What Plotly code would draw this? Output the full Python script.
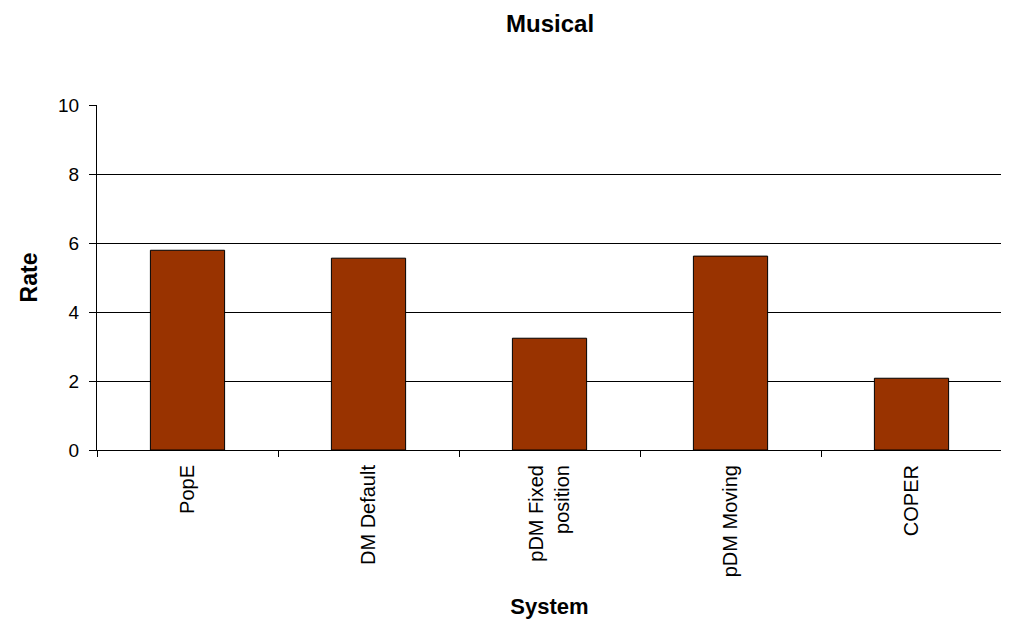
import plotly.graph_objects as go

categories = ["PopE", "DM Default", "pDM Fixed<br>position", "pDM Moving", "COPER"]
rates = [5.79, 5.56, 3.24, 5.62, 2.08]
y_ticks = [0, 2, 4, 6, 8, 10]

fig = go.Figure()
fig.add_trace(go.Bar(
    x=categories, y=rates,
    marker=dict(color="#993300", line=dict(color="black", width=1)),
    width=0.41,
))

font_family = "Liberation Sans, Arial, sans-serif"
fig.update_layout(
    width=1001, height=613,
    paper_bgcolor="white", plot_bgcolor="white",
    margin=dict(l=89, r=7, t=97, b=171, autoexpand=False),
    showlegend=False,
    font=dict(family=font_family, color="black", size=19),
    title=dict(text="<b>Musical</b>", x=0.5415, xanchor="center", y=0.975, yanchor="middle",
               font=dict(size=24, family=font_family, color="black")),
)
fig.update_xaxes(
    type="category",
    tickangle=-90,
    tickson="boundaries",
    ticks="outside", ticklen=6, tickcolor="black",
    ticklabelstandoff=6,
    showline=True, linecolor="black", linewidth=1,
    showgrid=False,
    automargin=False,
    tickfont=dict(size=20),
    title=dict(text="<b>System</b>", font=dict(size=22), standoff=22),
)
fig.update_yaxes(
    range=[0, 10],
    tickvals=y_ticks,
    ticks="outside", ticklen=7, tickcolor="black",
    ticklabelstandoff=6,
    showline=True, linecolor="black", linewidth=1,
    showgrid=True, gridcolor="black", gridwidth=1,
    zeroline=False,
    automargin=False,
    tickfont=dict(size=19),
    title=dict(text="<b>Rate</b>", font=dict(size=23), standoff=14),
)

fig.write_html("out.html")
